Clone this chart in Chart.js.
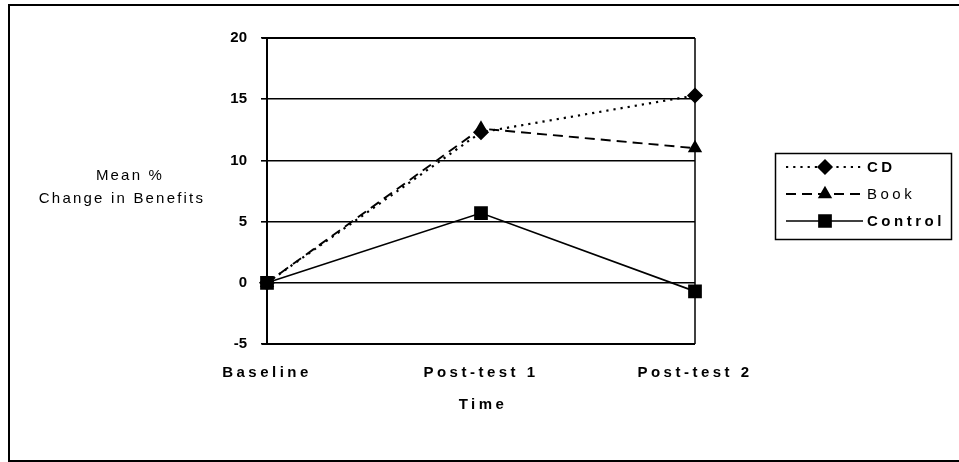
<!DOCTYPE html>
<html>
<head>
<meta charset="utf-8">
<script src="https://cdn.jsdelivr.net/npm/chart.js@4.4.0/dist/chart.umd.min.js"></script>
<style>
html,body{margin:0;padding:0;background:#fff;}
#wrap{width:959px;height:462px;position:relative;}
</style>
</head>
<body>
<div id="wrap"><canvas id="c" width="959" height="462"></canvas></div>
<script>
const categories = ['Baseline', 'Post-test 1', 'Post-test 2'];
const cdValues = [0, 12.3, 15.3];
const bookValues = [0, 12.6, 11.0];
const controlValues = [0, 5.7, -0.7];
const seriesNames = ['CD', 'Book', 'Control'];
const yTickValues = [-5, 0, 5, 10, 15, 20];
const yTitleLines = ['Mean %', 'Change in Benefits'];
const xTitle = 'Time';

const FONT = '"Liberation Sans", Arial, sans-serif';
const SPACING = '3.5px';

const datasets = [
  {label: seriesNames[0], data: cdValues, borderColor:'#000', backgroundColor:'#000', borderWidth:2.2,
   borderDash:[2.2,5], pointStyle:'rectRot', pointRadius:6.5, pointHoverRadius:6.5, clip:false, bold:true},
  {label: seriesNames[1], data: bookValues, borderColor:'#000', backgroundColor:'#000', borderWidth:1.9,
   borderDash:[10,6], pointStyle:'triangle', pointRadius:6.4, pointHoverRadius:6.4, clip:false, bold:false},
  {label: seriesNames[2], data: controlValues, borderColor:'#000', backgroundColor:'#000', borderWidth:1.7,
   borderDash:[], pointStyle:'rect', pointRadius:8.5, pointHoverRadius:8.5, clip:false, bold:true}
];

const decor = {
  id:'decor',
  afterLayout(chart){
    const s = chart.scales.y;
    if (s && !s._noSpacing) {
      const orig = s.drawLabels.bind(s);
      s.drawLabels = function(area){
        const ctx = this.ctx;
        const prev = ctx.letterSpacing;
        ctx.letterSpacing = '0px';
        orig(area);
        ctx.letterSpacing = prev;
      };
      s._noSpacing = true;
    }
  },
  beforeDraw(chart){
    const ctx = chart.ctx;
    ctx.save();
    ctx.letterSpacing = '0px';
    ctx.fillStyle = '#fff';
    ctx.fillRect(0,0,chart.width,chart.height);
    ctx.strokeStyle = '#000';
    ctx.lineWidth = 2;
    ctx.strokeRect(9, 5, 960, 456);
    ctx.restore();
    ctx.letterSpacing = SPACING;
  },
  beforeDatasetsDraw(chart){
    const ctx = chart.ctx;
    ctx.letterSpacing = '0px';
    const a = chart.chartArea;
    ctx.save();
    ctx.strokeStyle = '#000';
    ctx.lineWidth = 2;
    ctx.beginPath();
    ctx.moveTo(a.left-5, a.top); ctx.lineTo(a.right, a.top);
    ctx.moveTo(a.left-5, a.bottom); ctx.lineTo(a.right, a.bottom);
    ctx.stroke();
    ctx.lineWidth = 1.5;
    ctx.beginPath();
    ctx.moveTo(a.right, a.top); ctx.lineTo(a.right, a.bottom);
    ctx.stroke();
    ctx.restore();
  },
  afterDraw(chart){
    const ctx = chart.ctx;
    const a = chart.chartArea;
    ctx.save();
    ctx.fillStyle = '#000';
    ctx.textBaseline = 'middle';
    // y title
    ctx.letterSpacing = '2.2px';
    ctx.font = '15px ' + FONT;
    ctx.textAlign = 'center';
    ctx.fillText(yTitleLines[0], 130, 176);
    ctx.fillText(yTitleLines[1], 122, 199);
    // x title
    ctx.letterSpacing = SPACING;
    ctx.font = 'bold 15px ' + FONT;
    ctx.fillText(xTitle, (a.left + a.right)/2 + 2, 405);
    // legend box
    ctx.strokeStyle = '#000';
    ctx.lineWidth = 1.5;
    ctx.strokeRect(775.5, 153.5, 176, 86);
    const rows = [167, 194, 221];
    ctx.textAlign = 'left';
    datasets.forEach((ds, i) => {
      const y = rows[i];
      ctx.save();
      ctx.letterSpacing = '0px';
      ctx.strokeStyle = '#000';
      ctx.lineWidth = ds.borderWidth;
      ctx.setLineDash(ds.borderDash);
      ctx.beginPath();
      ctx.moveTo(786, y); ctx.lineTo(863, y);
      ctx.stroke();
      ctx.setLineDash([]);
      ctx.fillStyle = '#000';
      Chart.helpers.drawPoint(ctx, {pointStyle: ds.pointStyle, radius: ds.pointRadius, borderWidth: 1}, 825, y);
      ctx.restore();
      ctx.letterSpacing = SPACING;
      ctx.font = (ds.bold ? 'bold ' : '') + '15px ' + FONT;
      ctx.fillText(ds.label, 867, y + 1);
    });
    ctx.restore();
  }
};

new Chart(document.getElementById('c'), {
  type:'line',
  data:{labels:categories, datasets: datasets.map(d => Object.assign({}, d))},
  options:{
    responsive:false,
    animation:false,
    events:[],
    layout:{padding:{left:0, top:38, right:264, bottom:0}},
    plugins:{legend:{display:false}, tooltip:{enabled:false}},
    elements:{line:{tension:0}, point:{borderWidth:1}},
    scales:{
      x:{
        type:'category',
        offset:false,
        grid:{display:false, drawTicks:false},
        border:{display:false},
        ticks:{color:'#000', font:{family:FONT, size:15, weight:'bold'}, padding:20, maxRotation:0, autoSkip:false},
        afterFit(s){ s.height = 462 - 344; }
      },
      y:{
        min:-5, max:20,
        afterBuildTicks(s){ s.ticks = yTickValues.map(v => ({value:v})); },
        grid:{color:'#000', lineWidth:1.6, tickLength:6, drawTicks:true},
        border:{display:true, color:'#000', width:2},
        ticks:{color:'#000', font:{family:FONT, size:15, weight:'bold'}, padding:14},
        afterFit(s){ s.width = 267; }
      }
    }
  },
  plugins:[decor]
});
</script>
</body>
</html>
